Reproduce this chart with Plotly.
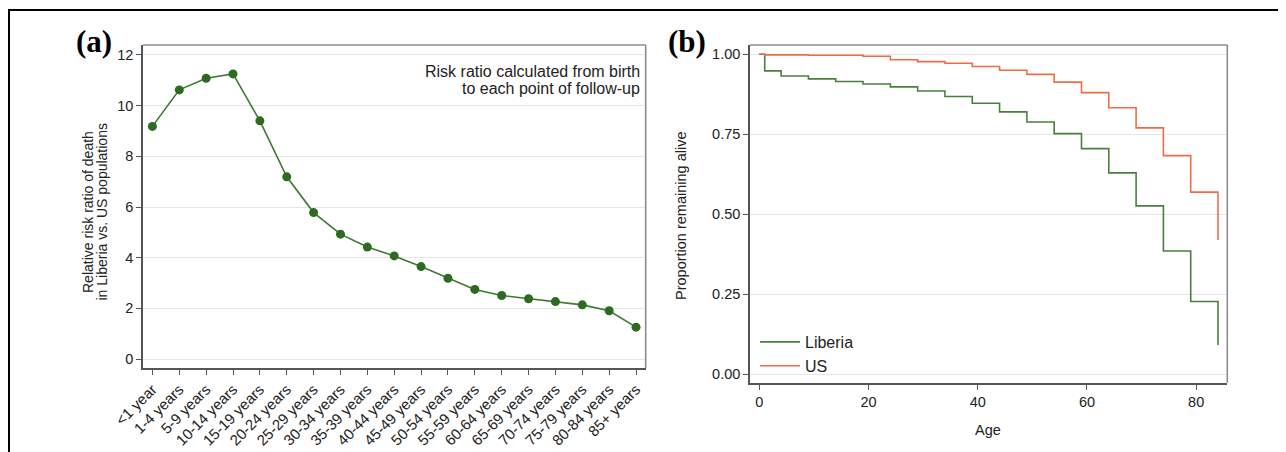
import plotly.graph_objects as go

# ---- Data ----
age_groups = ["<1 year", "1-4 years", "5-9 years", "10-14 years", "15-19 years",
              "20-24 years", "25-29 years", "30-34 years", "35-39 years", "40-44 years",
              "45-49 years", "50-54 years", "55-59 years", "60-64 years", "65-69 years",
              "70-74 years", "75-79 years", "80-84 years", "85+ years"]
risk_ratio = [9.18, 10.62, 11.08, 11.25, 9.40, 7.19, 5.78, 4.93, 4.42, 4.07,
              3.65, 3.19, 2.75, 2.51, 2.38, 2.27, 2.14, 1.91, 1.26]

ages = [0, 1, 4, 9, 14, 19, 24, 29, 34, 39, 44, 49, 54, 59, 64, 69, 74, 79, 84]
liberia_surv = [1.0, 0.948, 0.932, 0.923, 0.915, 0.907, 0.898, 0.885, 0.868, 0.847,
                0.820, 0.788, 0.752, 0.705, 0.629, 0.526, 0.385, 0.227, 0.091]
us_surv = [1.0, 0.998, 0.998, 0.997, 0.997, 0.994, 0.983, 0.977, 0.972, 0.962,
           0.950, 0.937, 0.913, 0.880, 0.833, 0.770, 0.683, 0.569, 0.419]

y_ticks_a = [0, 2, 4, 6, 8, 10, 12]
y_ticks_b = [0, 0.25, 0.5, 0.75, 1.0]
y_ticktext_b = ["0.00", "0.25", "0.50", "0.75", "1.00"]
x_ticks_b = [0, 20, 40, 60, 80]

# page offset of the figure (default body margin)
OFF = 8
W, H = 1286 - OFF, 452 - OFF
FONT = "Liberation Sans, Arial, Helvetica, sans-serif"
GREEN_A = "#2e6a22"
GREEN_B = "#4a7f40"
ORANGE = "#f26b48"
AX = "#555555"
GRID = "#e6e6e6"

def px(x):
    return (x - OFF) / W

def py(y):
    return 1 - (y - OFF) / H

fig = go.Figure()

fig.add_trace(go.Scatter(
    x=age_groups, y=risk_ratio, mode="lines+markers",
    line=dict(color="#3d7a30", width=1.6),
    marker=dict(color=GREEN_A, size=9),
    showlegend=False, xaxis="x", yaxis="y"))

fig.add_trace(go.Scatter(
    x=ages, y=liberia_surv, mode="lines", line_shape="hv", name="Liberia",
    line=dict(color=GREEN_B, width=1.6), xaxis="x2", yaxis="y2"))
fig.add_trace(go.Scatter(
    x=ages, y=us_surv, mode="lines", line_shape="hv", name="US",
    line=dict(color=ORANGE, width=1.6), xaxis="x2", yaxis="y2"))

tickfont = dict(family=FONT, size=14.5, color="#222222")

fig.update_layout(
    template="none",
    width=W, height=H,
    margin=dict(l=0, r=0, t=0, b=0, pad=0, autoexpand=False),
    paper_bgcolor="white", plot_bgcolor="white",
    font=dict(family=FONT, color="#222222"),
    xaxis=dict(domain=[px(143), px(645.7)], anchor="y", type="category", automargin=False,
               range=[-0.35, 18.36], tickangle=-45, tickfont=dict(family=FONT, size=15, color="#222222"),
               showgrid=False, showline=True, linecolor=AX, linewidth=1.6,
               ticks="outside", ticklen=5, tickcolor=AX, mirror=False, zeroline=False),
    yaxis=dict(domain=[py(368), py(45)], anchor="x", range=[-0.35, 12.39], automargin=False,
               tickvals=y_ticks_a, tickfont=tickfont, showgrid=True, gridcolor=GRID,
               gridwidth=1.2, showline=True, linecolor=AX, linewidth=1.6,
               ticks="outside", ticklen=5, tickcolor=AX, zeroline=False),
    xaxis2=dict(domain=[px(750), px(1227.3)], anchor="y2", range=[-1.7, 85.7], automargin=False,
                tickvals=x_ticks_b, tickfont=tickfont, showgrid=False,
                showline=True, linecolor=AX, linewidth=1.6,
                ticks="outside", ticklen=5, tickcolor=AX, zeroline=False),
    yaxis2=dict(domain=[py(382.7), py(45)], anchor="x2", range=[-0.027, 1.029], automargin=False,
                tickvals=y_ticks_b, ticktext=y_ticktext_b, tickfont=tickfont,
                showgrid=True, gridcolor=GRID, gridwidth=1.2,
                showline=True, linecolor=AX, linewidth=1.6,
                ticks="outside", ticklen=5, tickcolor=AX, zeroline=False),
    legend=dict(x=px(755), y=py(325), xanchor="left", yanchor="top",
                bgcolor="rgba(0,0,0,0)", borderwidth=0,
                font=dict(family=FONT, size=16, color="#222222"),
                tracegroupgap=0, itemwidth=40),
)

shapes = []
# light gray frames (top/right)
for (x0, x1, y0, y1) in [(143, 645.7, 45, 368), (750, 1227.3, 45, 382.7)]:
    shapes.append(dict(type="line", xref="paper", yref="paper",
                       x0=px(x0), x1=px(x1), y0=py(y0), y1=py(y0),
                       line=dict(color="#8c8c8c", width=1.6)))
    shapes.append(dict(type="line", xref="paper", yref="paper",
                       x0=px(x1), x1=px(x1), y0=py(y0), y1=py(y1),
                       line=dict(color="#8c8c8c", width=1.6)))
# outer black border (top and left)
shapes.append(dict(type="line", xref="paper", yref="paper",
                   x0=px(8), x1=1, y0=py(10), y1=py(10), line=dict(color="black", width=2)))
shapes.append(dict(type="line", xref="paper", yref="paper",
                   x0=px(9), x1=px(9), y0=py(9), y1=0, line=dict(color="black", width=2)))
fig.update_layout(shapes=shapes)

ann = []
serif = "Liberation Serif, Times New Roman, serif"
ann.append(dict(text="<b>(a)</b>", x=px(94), y=py(41), xref="paper", yref="paper",
                xanchor="center", yanchor="middle",
                showarrow=False, font=dict(family=serif, size=31, color="black")))
ann.append(dict(text="<b>(b)</b>", x=px(687), y=py(41), xref="paper", yref="paper",
                xanchor="center", yanchor="middle",
                showarrow=False, font=dict(family=serif, size=31, color="black")))
ann.append(dict(text="Risk ratio calculated from birth", x=px(642), y=py(72), xref="paper", yref="paper",
                xanchor="right", yanchor="middle", showarrow=False,
                font=dict(family=FONT, size=16, color="#222222")))
ann.append(dict(text="to each point of follow-up", x=px(642), y=py(88.5), xref="paper", yref="paper",
                xanchor="right", yanchor="middle", showarrow=False,
                font=dict(family=FONT, size=16, color="#222222")))
ann.append(dict(text="Relative risk ratio of death", x=px(88), y=py(212), xref="paper", yref="paper",
                textangle=-90, showarrow=False, xanchor="center", yanchor="middle",
                font=dict(family=FONT, size=14, color="#222222")))
ann.append(dict(text="in Liberia vs. US populations", x=px(101.5), y=py(212), xref="paper", yref="paper",
                textangle=-90, showarrow=False, xanchor="center", yanchor="middle",
                font=dict(family=FONT, size=14, color="#222222")))
ann.append(dict(text="Proportion remaining alive", x=px(681), y=py(216), xref="paper", yref="paper",
                textangle=-90, showarrow=False, xanchor="center", yanchor="middle",
                font=dict(family=FONT, size=14.5, color="#222222")))
ann.append(dict(text="Age", x=px(988), y=py(430), xref="paper", yref="paper",
                showarrow=False, xanchor="center", yanchor="middle",
                font=dict(family=FONT, size=14.5, color="#222222")))
fig.update_layout(annotations=ann)

fig.write_html("out.html")
